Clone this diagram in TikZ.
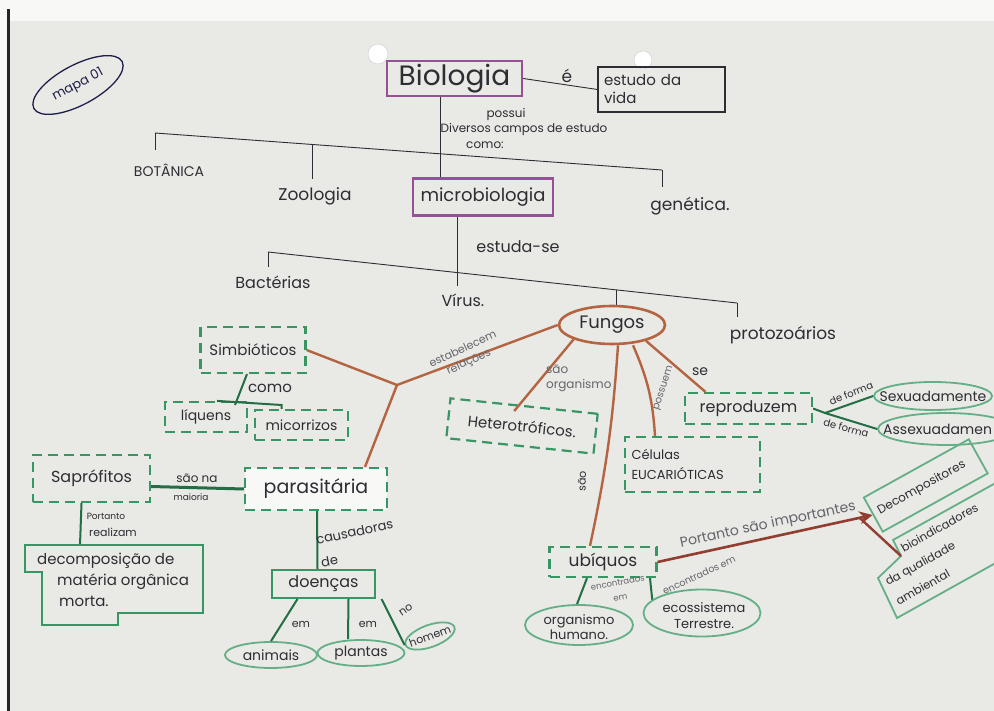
\documentclass[tikz,border=0pt]{standalone}
\usepackage{fontspec}
\setmainfont{Poppins}
\usetikzlibrary{shapes.geometric,calc,arrows.meta}
\definecolor{paper}{RGB}{233,233,229}
\definecolor{topw}{RGB}{248,248,246}
\definecolor{ink}{RGB}{45,45,52}
\definecolor{pencil}{RGB}{100,100,108}
\definecolor{purp}{RGB}{150,80,150}
\definecolor{brn}{RGB}{180,100,65}
\definecolor{dbrn}{RGB}{145,62,48}
\definecolor{grn}{RGB}{55,150,100}
\definecolor{grd}{RGB}{35,110,68}
\definecolor{grl}{RGB}{100,175,135}
\definecolor{navy}{RGB}{30,30,75}
\tikzset{
  every node/.style={text=ink, inner sep=0pt},
  fsz/.style 2 args={font=\fontsize{#1}{#2}\selectfont},
  pbox/.style={draw=purp, line width=2.4pt, rectangle},
  kbox/.style={draw=ink, line width=1.1pt, rectangle},
  dbox/.style={draw=grn, line width=2.2pt, dash pattern=on 10pt off 6pt, rectangle},
  sbox/.style={draw=grn, line width=2pt, rectangle},
  gbox/.style={draw=grl, line width=1.8pt},
  gell/.style={draw=grl, line width=1.8pt, ellipse},
  bell/.style={draw=brn, line width=2.6pt, ellipse},
  kline/.style={draw=ink, line width=0.9pt},
  bline/.style={draw=brn, line width=2.4pt},
  gline/.style={draw=grd, line width=2pt},
  lbl/.style={text=pencil},
}
\begin{document}
\begin{tikzpicture}[x=1pt,y=-1pt]
\useasboundingbox (0,0) rectangle (994,711);
\clip (0,0) rectangle (994,711);
\fill[paper] (0,0) rectangle (994,711);
\fill[topw] (0,0) rectangle (994,21);
\fill[topw] (0,0) rectangle (7,711);
\fill[black!85] (7,9) rectangle (10,711);
\filldraw[fill=white, draw=black!20] (378,54) circle (10pt);
\filldraw[fill=white, draw=black!20] (643,60) circle (9pt);

% mapa 01
\node[gell, draw=navy, line width=1.3pt, minimum width=100pt, minimum height=40pt, rotate=28] (mapa) at (78,85) {};
\node[rotate=28, text=navy, fsz={13}{13}] (mapat) at (mapa.center) {mapa 01};

% Biologia
\node[pbox, minimum width=135pt, minimum height=35pt, fsz={28}{30}] (bio) at (454.5,78.5) {Biologia};
\node[kbox, minimum width=127pt, minimum height=45pt, align=left, text width=115pt, fsz={15}{18}] (vida) at (661.5,89.5) {estudo da\\vida};
\node[fsz={17}{17}] (e) at (567,76) {é};
\draw[kline] (bio.east) -- (vida.west);

\node[fsz={12}{12}] (possui) at (506,114) {possui};
\node[fsz={12}{12}] (campos) at (524,129) {Diversos campos de estudo};
\node[fsz={12}{12}] (como1) at (485,145) {como:};

\node[pbox, minimum width=140pt, minimum height=37pt, fsz={18}{18}] (micro) at (483,197) {microbiologia};
\draw[kline] ([xshift=-14.5pt]bio.south) -- ([xshift=-43pt]micro.north);

\coordinate (hL) at (155,133);
\coordinate (hR) at (662,170);
\draw[kline] (hL) -- (hR);
\draw[kline] (hL) -- ++(0,17);
\draw[kline] ($(hL)!0.31!(hR)$) -- ++(0,35);
\draw[kline] (hR) -- ++(0,17);
\node[fsz={14}{14}] (bot) at (169,170) {BOTÂNICA};
\node[fsz={17}{17}] (zoo) at (315,196) {Zoologia};
\node[fsz={17}{17}] (gen) at (690,206) {genética.};

% estuda-se
\node[fsz={16}{16}] (estuda) at (518,247) {estuda-se};
\coordinate (gL) at (268,252);
\coordinate (gR) at (737,303);
\draw[kline] (gL) -- (gR);
\draw[kline] ([xshift=-26pt]micro.south) -- ++(0,69);
\draw[kline] (gL) -- ++(0,15);
\draw[kline] ($(gL)!0.744!(gR)$) -- ++(0,16);
\draw[kline] (gR) -- ++(0,14);
\node[fsz={16}{16}] (bact) at (273,282) {Bactérias};
\node[fsz={16}{16}] (virus) at (463,300) {Vírus.};
\node[fsz={17}{17}] (proto) at (783,335) {protozoários};

% Fungos
\node[bell, minimum width=106pt, minimum height=38pt, fsz={18}{18}] (fungos) at (612,325) {Fungos};

% Simbioticos / parasitaria
\node[dbox, minimum width=105pt, minimum height=46pt, fsz={15}{15}] (simb) at (253,350) {Simbióticos};
\coordinate (J) at (397,385);
\draw[bline] (simb.east) -- (J) -- (fungos.west);
\node[dbox, minimum width=142pt, minimum height=42pt, fill=white!70!paper, fsz={19}{19}] (paras) at (316,489) {parasitária};
\draw[bline] (J) -- ([xshift=49pt]paras.north);
\node[lbl, rotate=25, align=center, fsz={11}{14}] (estab) at (466,356) {estabelecem\\relações};

% como
\node[dbox, minimum width=82pt, minimum height=30pt, fsz={14}{14}] (liq) at (206,417) {líquens};
\node[dbox, minimum width=93pt, minimum height=30pt, fsz={14}{14}] (mic) at (301.5,425) {micorrizos};
\coordinate (cm) at (235,405);
\coordinate (mt) at ([xshift=-20pt]mic.north);
\draw[gline] ([xshift=-6pt]simb.south) -- (cm);
\draw[gline] ([xshift=11pt]liq.north) -- (mt |- cm) -- (mt);
\node[fsz={15}{15}] (como2) at (270,388) {como};

% Heterotroficos
\node[dbox, rotate=-6, minimum width=148pt, minimum height=40pt, fsz={15}{15}] (het) at (522,426) {Heterotróficos.};
\draw[bline] (fungos.south west) -- ($(het.north)+(-10,6)$);
\node[lbl, align=left, anchor=west, fsz={12}{15}] (saoorg) at (546,378) {são\\organismo};

% ubiquos
\node[dbox, minimum width=107pt, minimum height=30pt, fsz={17}{17}] (ubi) at (603,562) {ubíquos};
\draw[bline] ([xshift=6pt]fungos.south) to[bend left=4] ([xshift=-13pt]ubi.north);
\node[rotate=88, fsz={11}{11}] (sao2) at (582,481) {são};

% celulas
\node[dbox, minimum width=135pt, minimum height=55pt, align=left, text width=122pt, fsz={13}{20}] (cel) at (692.5,464.5) {Células\\EUCARIÓTICAS};
\draw[bline] ([xshift=21pt]fungos.south) to[bend left=10] ([xshift=-37.5pt]cel.north);
\node[lbl, rotate=72, fsz={10}{10}] (possuem) at (664,388) {possuem};

% reproduzem
\node[dbox, minimum width=127pt, minimum height=31pt, fsz={16}{16}] (rep) at (748.5,408.5) {reproduzem};
\draw[bline] (fungos.-25) -- ([xshift=-43pt]rep.north);
\node[fsz={14}{14}] (se) at (700,372) {se};

\node[gell, minimum width=118pt, minimum height=28pt] (sex) at (933,396) {};
\node[fsz={14}{14}] (sext) at (sex.center) {Sexuadamente};
\node[gell, minimum width=136pt, minimum height=32pt] (asx) at (946,429) {};
\node[fsz={14}{14}, anchor=west] (asxt) at (883,429) {Assexuadamen};
\coordinate (rj) at (825,413);
\draw[gline] (rep.east) -- (rj) -- (sex.west);
\draw[gline] (rj) -- (asx.west);
\node[rotate=22, fsz={10}{10}] (df1) at (851,393) {de forma};
\node[rotate=-15, fsz={10}{10}] (df2) at (846,428) {de forma};

% Decompositores / bioindicadores
\node[gbox, rectangle, rotate=29, minimum width=120pt, minimum height=39pt, anchor=west] (dec) at (872.5,515) {};
\node[rotate=29, anchor=west, fsz={12}{12}] (dect) at ($(dec.west)+(6,-3)$) {Decompositores};
\coordinate (b1) at (893,540);
\coordinate (b2) at (901,556);
\coordinate (b3) at (878,578);
\coordinate (b4) at (897,618);
\coordinate (b5) at (1010,555);
\coordinate (b6) at (1010,475);
\draw[gbox] (b1) -- (b2) -- (b3) -- (b4) -- (b5) -- (b6) -- cycle;
\node[rotate=29, align=left, anchor=north west, fsz={11.5}{22}] (bioind) at (873,559) {\hspace*{30pt}bioindicadores\\da qualidade\\ambiental};

\draw[draw=dbrn, line width=2.6pt, -{Stealth[length=13pt,width=13pt]}] (ubi.east) -- (dec.west);
\draw[draw=dbrn, line width=2.4pt] ($(ubi.east)!0.94!(dec.west)$) -- (b2);
\node[lbl, rotate=12, fsz={14}{14}] (port) at (768,525) {Portanto são importantes};

% encontrados
\node[gell, minimum width=108pt, minimum height=40pt] (org) at (579,625) {};
\node[align=center, fsz={13}{15}] (orgt) at (579,627) {organismo\\humano.};
\node[gell, minimum width=117pt, minimum height=47pt] (eco) at (702,613) {};
\node[align=center, fsz={13}{16}] (ecot) at (704,616) {ecossistema\\Terrestre.};
\draw[gline] ([xshift=-16pt]ubi.south) -- ([xshift=-2pt]org.north);
\draw[gline] ([xshift=47pt]ubi.south) -- (eco.165);
\node[lbl, rotate=10, align=center, fsz={8.5}{15}] (enc1) at (619,590) {encontrados\\em};
\node[lbl, rotate=25, fsz={9.5}{10}] (enc2) at (699,575) {encontrados em};

% Saprofitos
\node[dbox, minimum width=117pt, minimum height=47pt, fsz={16}{16}] (sap) at (91.5,478.5) {Saprófitos};
\draw[gline, line width=3pt] ([yshift=-8pt]sap.east) -- (paras.west);
\node[fsz={12}{12}] (sao3) at (197,478) {são na};
\node[fsz={9}{9}] (maioria) at (191,497) {maioria};
\coordinate (dtop) at (80,545);
\draw[gline] ([xshift=-10pt]sap.south) -- (dtop);
\node[fsz={9}{9}] (portanto2) at (106,516) {Portanto};
\node[fsz={11}{11}] (realizam) at (113,532) {realizam};
\draw[sbox] (25,545) -- (203,545) -- (203,613) -- (118,613) -- (118,625) -- (42,625) -- (42,572) -- (25,572) -- cycle;
\node[align=left, anchor=north west, fsz={15}{21}] (decomp) at (37,553) {decomposição de\\\hspace*{20pt}matéria orgânica\\\hspace*{22pt}morta.};

% doencas
\node[sbox, minimum width=103pt, minimum height=28pt, fsz={16}{16}] (doe) at (323.5,584) {doenças};
\draw[gline] ([xshift=1pt]paras.south) -- ([xshift=-6pt]doe.north);
\node[rotate=12, align=left, fsz={13}{23}] (caus) at (357,543) {causadoras\\de};
\node[gell, minimum width=92pt, minimum height=26pt] (ani) at (271,655) {};
\node[fsz={14}{14}] (anit) at (ani.center) {animais};
\node[gell, minimum width=87pt, minimum height=26pt] (pla) at (361,653) {};
\node[fsz={14}{14}] (plat) at (pla.center) {plantas};
\node[gell, rotate=20, minimum width=52pt, minimum height=22pt] (hom) at (430,636) {};
\node[rotate=20, fsz={11}{11}] (homt) at (hom.center) {homem};
\draw[gline] ([xshift=-26pt]doe.south) -- (ani.north);
\draw[gline] ([xshift=25pt]doe.south) -- ([xshift=-13pt]pla.north);
\draw[gline] ([xshift=58pt]doe.south) -- (hom.west);
\node[fsz={11}{11}] (em1) at (301,624) {em};
\node[fsz={11}{11}] (em2) at (368,624) {em};
\node[rotate=35, fsz={11}{11}] (no) at (406,610) {no};
\end{tikzpicture}
\end{document}
